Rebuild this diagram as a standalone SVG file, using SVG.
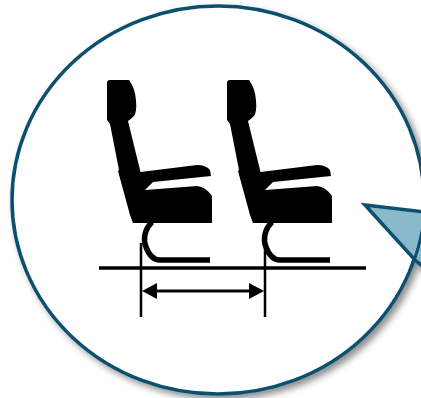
<svg xmlns="http://www.w3.org/2000/svg" width="421" height="398" viewBox="0 0 421 398">
<style>
.bubble{fill:#fff;stroke:#0a506e;stroke-width:3.5}
.wedge{fill:#8ab9cb;stroke:#0a506e;stroke-width:3.5;stroke-linejoin:miter}
.seat{fill:#000}
.leg{fill:none;stroke:#000;stroke-width:5.5}
.line{stroke:#000;fill:none}
.head{fill:#000}
</style>
<defs>
<filter id="sh" x="-10%" y="-10%" width="125%" height="125%">
<feGaussianBlur in="SourceAlpha" stdDeviation="3.5"/>
<feOffset dx="4" dy="4"/>
<feComponentTransfer><feFuncA type="linear" slope="0.45"/></feComponentTransfer>
<feMerge><feMergeNode/><feMergeNode in="SourceGraphic"/></feMerge>
</filter>
<path id="seatShape" d="M110 80H129Q135 88 136 100Q137 112 134 116Q131 119 128 121L140.500 172L197 165Q206 165 210 170L211 176L153 182L145 190L197 186Q206 187 212 196V223H133L130 215L118 171L119 170L110 124L107 120V83Q107 80 110 80Z"/>
<path id="legShape" d="M152 222C144 230 143 240 146 247C149 255 153 260 160 260H210"/>
</defs>
<g id="callout" filter="url(#sh)">
<ellipse class="bubble" cx="218" cy="200" rx="206" ry="194"/>
<path class="wedge" d="M365 205L425 212V268L415 260Z"/>
<path d="M424 220Q421 240 415 258" fill="none" stroke="#0a506e" stroke-width="3"/>
</g>
<g id="seat-1"><use href="#seatShape" class="seat"/><use href="#legShape" class="leg"/></g>
<g id="seat-2" transform="translate(120 0)"><use href="#seatShape" class="seat"/><use href="#legShape" class="leg"/></g>
<g id="connectors">
<path class="line" stroke-width="3.500" d="M99 268H366"/>
<path class="line" stroke-width="2.500" d="M141 243V317M265 243V317"/>
<path class="line" stroke-width="3" d="M150 291H256"/>
<path class="head" d="M142 291L157 283V299Z"/>
<path class="head" d="M264 291L249 283V299Z"/>
</g>
</svg>
